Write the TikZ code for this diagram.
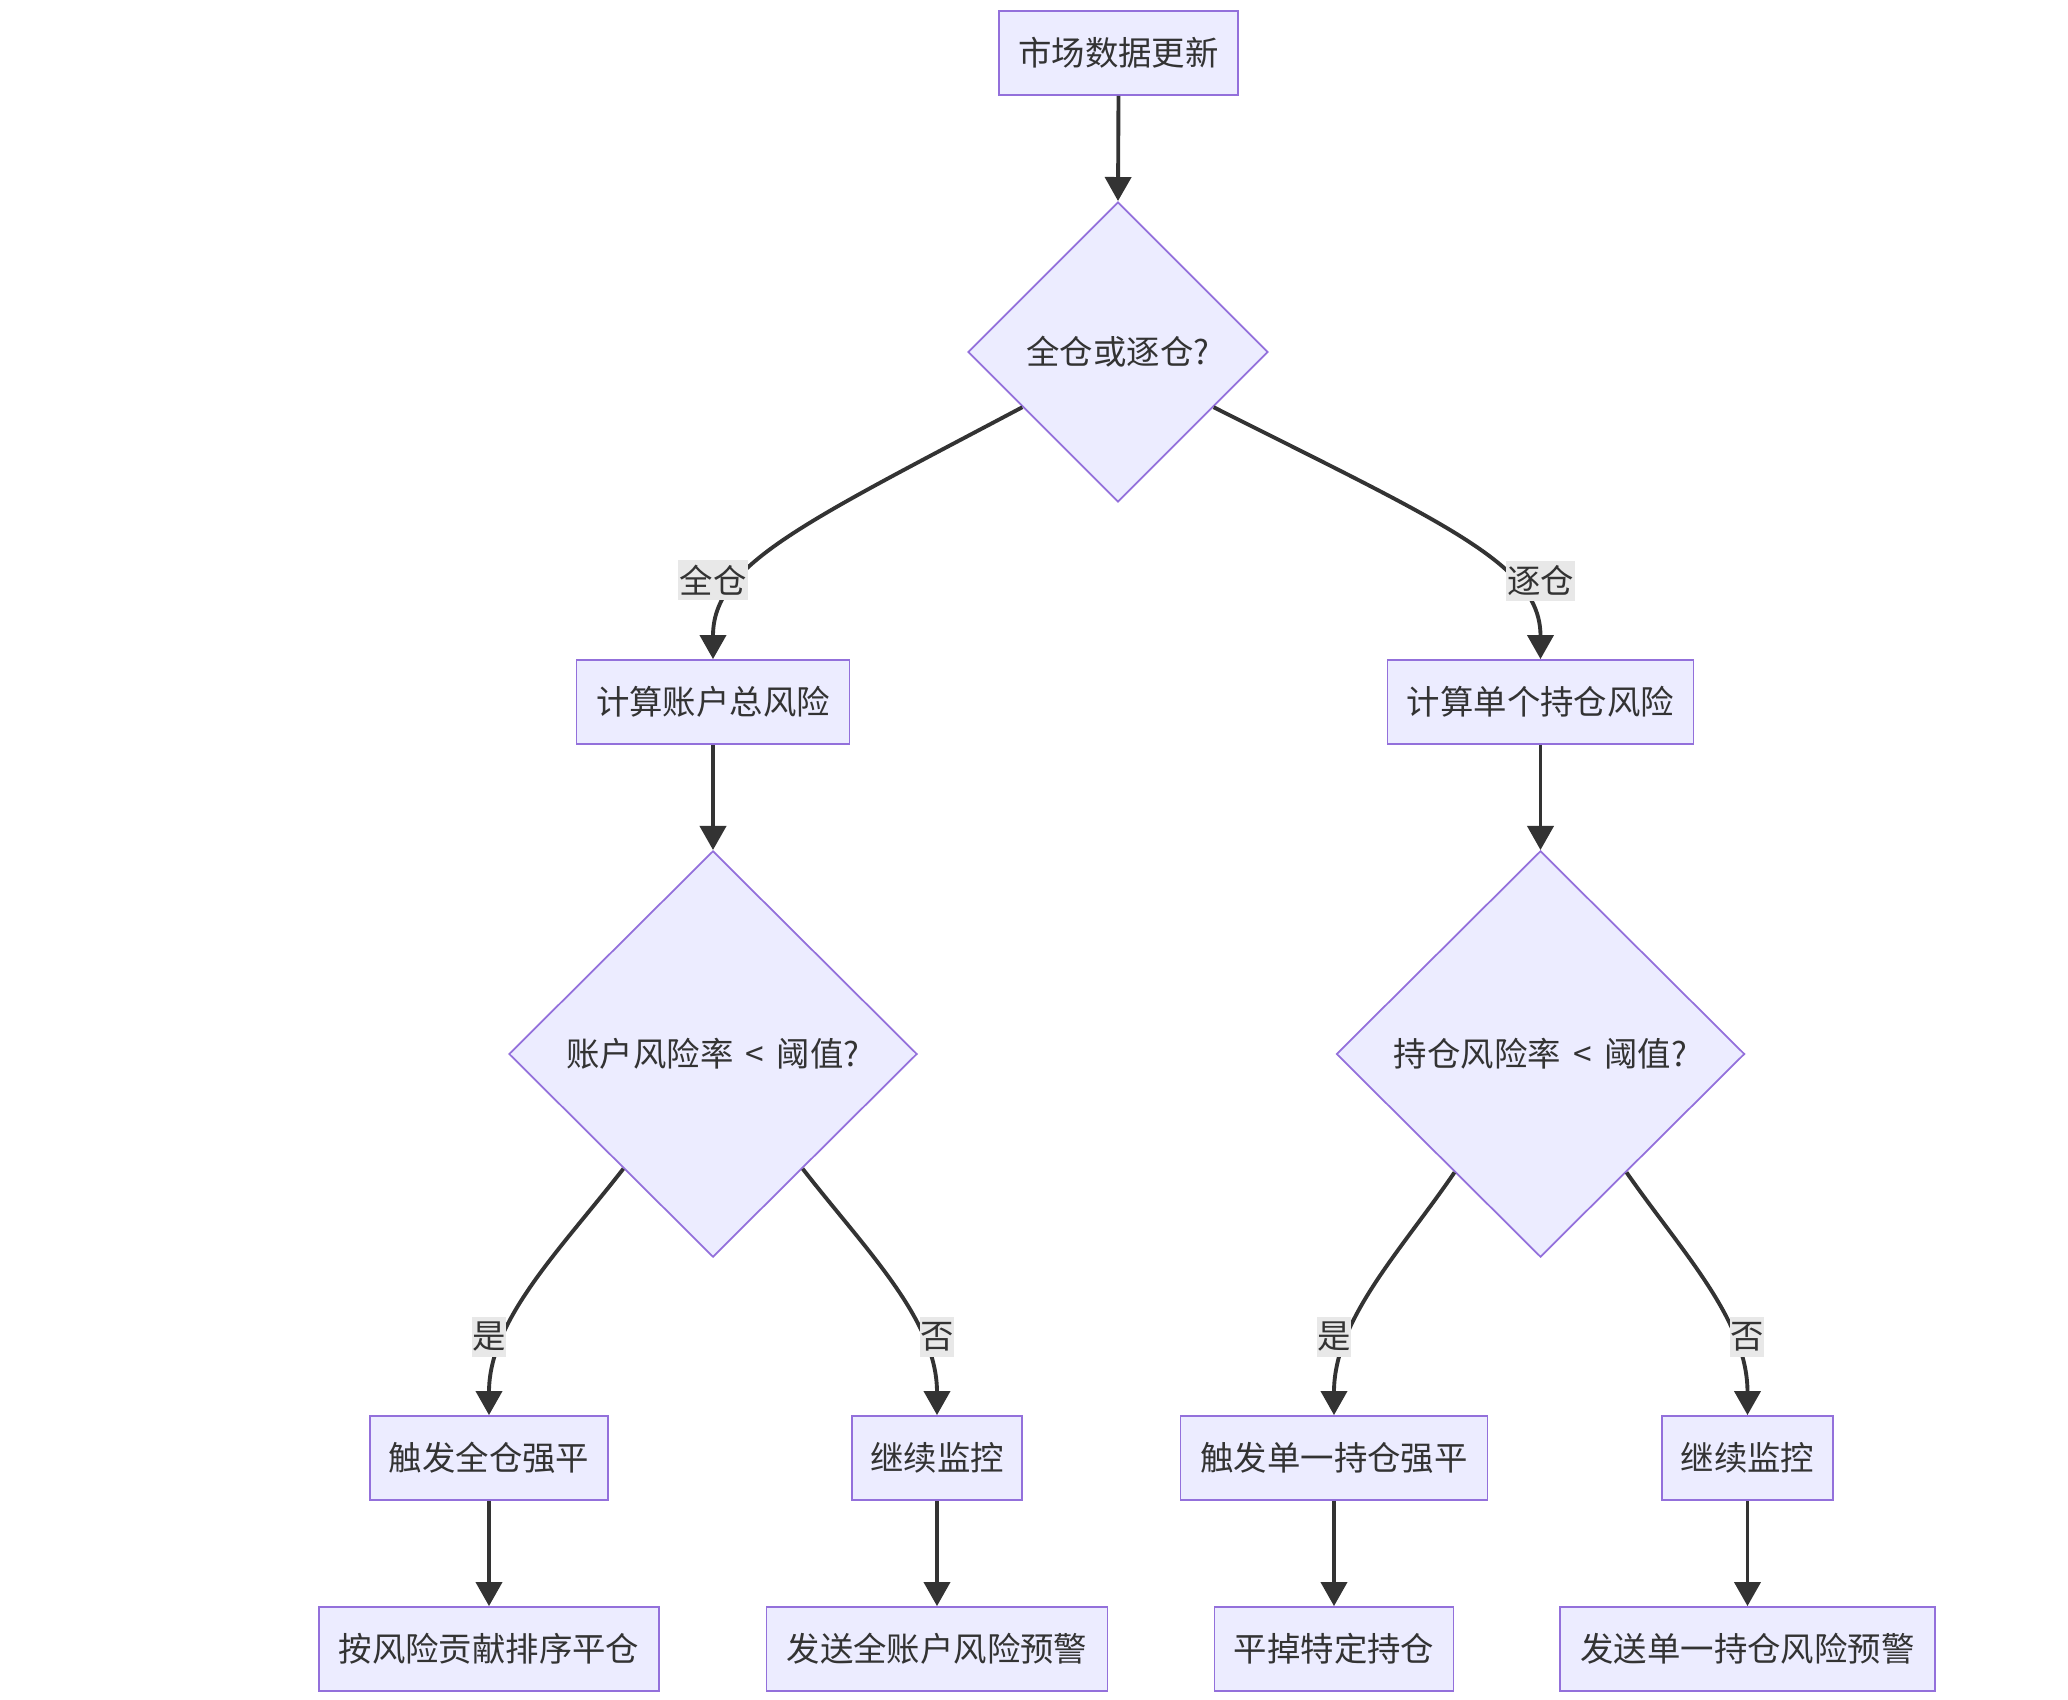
\documentclass[tikz,border=0pt]{standalone}
\usepackage{fontspec}
\setmainfont{Noto Sans CJK SC}
\usetikzlibrary{shapes.geometric,arrows.meta}
\definecolor{nodefill}{HTML}{ECECFF}
\definecolor{nodeline}{HTML}{9370DB}
\definecolor{edgecol}{HTML}{333333}
\definecolor{labelfill}{HTML}{E8E8E8}
\newcommand\nfont{\fontsize{9.5pt}{11pt}\selectfont}
\newcommand\lessgap{\hspace{0.05cm}<\hspace{0.05cm}}
\begin{document}
\begin{tikzpicture}[x=0.01cm,y=-0.01cm,
 box/.style={draw=nodeline,fill=nodefill,line width=0.5pt,minimum height=0.84cm,inner sep=0pt,text=edgecol,font=\nfont},
 dia/.style={shape=diamond,draw=nodeline,fill=nodefill,line width=0.5pt,inner sep=0pt,aspect=1,text=edgecol,font=\nfont},
 lab/.style={fill=labelfill,inner sep=0pt,minimum height=0.40cm,text=edgecol,font=\nfont},
 arr/.style={draw=edgecol,line width=1.1pt,-{Triangle[width=0.26cm,length=0.24cm]}}]
\useasboundingbox (0,0) rectangle (2068,1700);
% nodes
\node[box,minimum width=2.39cm] (n0) at (1118.5,53) {市场数据更新};
\node[dia,minimum width=3cm,minimum height=3cm] (d1) at (1118,352) {全仓或逐仓?};
\node[box,minimum width=2.73cm] (a1) at (713,702) {计算账户总风险};
\node[box,minimum width=3.06cm] (b1) at (1540.5,702) {计算单个持仓风险};
\node[dia,minimum width=4.08cm,minimum height=4.06cm] (d2) at (713,1054) {账户风险率 \lessgap{} 阈值?};
\node[dia,minimum width=4.08cm,minimum height=4.06cm] (d3) at (1540.5,1054) {持仓风险率 \lessgap{} 阈值?};
\node[box,minimum width=2.385cm] (a2) at (489,1458) {触发全仓强平};
\node[box,minimum width=1.70cm] (a3) at (937,1458) {继续监控};
\node[box,minimum width=3.40cm] (a4) at (489,1649) {按风险贡献排序平仓};
\node[box,minimum width=3.41cm] (a5) at (937,1649) {发送全账户风险预警};
\node[box,minimum width=3.066cm] (b2) at (1334,1458) {触发单一持仓强平};
\node[box,minimum width=1.705cm] (b3) at (1747.5,1458) {继续监控};
\node[box,minimum width=2.387cm] (b4) at (1334,1649) {平掉特定持仓};
\node[box,minimum width=3.75cm] (b5) at (1747.5,1649) {发送单一持仓风险预警};
% edges
\draw[arr] (n0.south) -- (d1.north);
\draw[arr] (d1.210) .. controls (800,525) and (713,565) .. (a1.north);
\draw[arr] (d1.330) .. controls (1448,525) and (1540.5,565) .. (b1.north);
\draw[arr] (a1.south) -- (d2.north);
\draw[arr] (b1.south) -- (d3.north);
\draw[arr] (d2.232) .. controls (560,1250) and (489,1320) .. (a2.north);
\draw[arr] (d2.308) .. controls (866,1250) and (937,1320) .. (a3.north);
\draw[arr] (d3.234) .. controls (1400,1252) and (1334,1320) .. (b2.north);
\draw[arr] (d3.306) .. controls (1682,1252) and (1747.5,1320) .. (b3.north);
\draw[arr] (a2.south) -- (a4.north);
\draw[arr] (a3.south) -- (a5.north);
\draw[arr] (b2.south) -- (b4.north);
\draw[arr] (b3.south) -- (b5.north);
% edge labels
\node[lab,minimum width=0.69cm] (l1) at (713,580) {全仓};
\node[lab,minimum width=0.68cm] (l2) at (1540.5,581) {逐仓};
\node[lab,minimum width=0.34cm] (l3) at (489,1337) {是};
\node[lab,minimum width=0.34cm] (l4) at (937,1337) {否};
\node[lab,minimum width=0.33cm] (l5) at (1334,1337) {是};
\node[lab,minimum width=0.33cm] (l6) at (1747,1337) {否};
\end{tikzpicture}
\end{document}
